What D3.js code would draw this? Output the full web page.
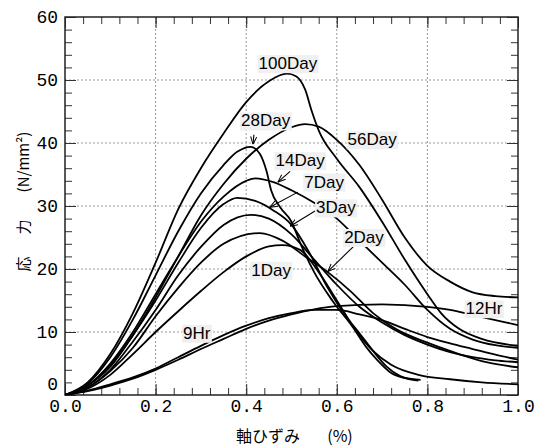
<!DOCTYPE html>
<html>
<head>
<meta charset="utf-8">
<script src="https://cdn.jsdelivr.net/npm/d3@7"></script>
<style>
  body { margin: 0; background: #fff; }
  svg { display: block; }
</style>
</head>
<body>
<script>
// strain (%) , stress (N/mm2)
const day100 = [[0,0],[0.05,2],[0.1,6.5],[0.15,13],[0.2,21],[0.25,29.5],[0.3,36],[0.35,41.5],[0.4,46.5],[0.45,49.8],[0.49,51],[0.51,50.6],[0.53,48.5],[0.545,45],[0.56,42],[0.6,37.5],[0.65,33],[0.7,27.5],[0.75,21.5],[0.8,16],[0.83,13],[0.87,10.5],[0.92,8.9],[1,7.8]];
const day56 = [[0,0],[0.05,1.5],[0.1,4.5],[0.15,9.5],[0.2,15.5],[0.25,22],[0.3,28.5],[0.35,33.5],[0.4,37.5],[0.45,40.5],[0.5,42.5],[0.53,43],[0.56,42.6],[0.6,40.5],[0.65,36.5],[0.7,31],[0.75,25],[0.8,20.5],[0.85,18],[0.9,16.3],[0.95,15.7],[1,15.5]];
const day28 = [[0,0],[0.05,1.8],[0.1,6],[0.15,12],[0.2,19],[0.25,26],[0.3,32],[0.35,36.5],[0.38,38.6],[0.41,39.4],[0.43,38.3],[0.445,35.5],[0.455,32.5],[0.475,29.8],[0.5,27.5],[0.52,24],[0.55,19.5],[0.59,15],[0.635,10.8],[0.665,7.6],[0.69,5.5],[0.72,3.5],[0.75,2.7],[0.785,2.4]];
const day14 = [[0,0],[0.05,1.5],[0.1,5],[0.15,10],[0.2,16],[0.25,22],[0.3,27.5],[0.35,31.5],[0.4,34],[0.42,34.4],[0.46,33.8],[0.5,32.5],[0.55,30.5],[0.6,28],[0.65,24.5],[0.7,21],[0.75,17.5],[0.8,13.5],[0.85,10.5],[0.9,8.8],[0.95,7.9],[1,7.5]];
const day7 = [[0,0],[0.05,1.5],[0.1,4.8],[0.15,9.5],[0.2,15],[0.25,21],[0.3,26.5],[0.35,30.3],[0.38,31.3],[0.42,30.8],[0.46,29.3],[0.5,27],[0.54,22.5],[0.58,17],[0.62,12.5],[0.65,9.8],[0.68,7],[0.71,4.5],[0.74,3],[0.78,2.3]];
const day3 = [[0,0],[0.05,1.2],[0.1,4],[0.15,8.5],[0.2,13.5],[0.25,19],[0.3,23.5],[0.35,27],[0.41,28.6],[0.45,28],[0.5,25.5],[0.55,21.5],[0.6,17.5],[0.65,14],[0.7,11.5],[0.75,9.5],[0.8,8],[0.85,6.8],[0.9,6],[0.95,5.5],[1,5.2]];
const day2 = [[0,0],[0.05,1.2],[0.1,3.8],[0.15,7.5],[0.2,12.5],[0.25,17],[0.3,21],[0.35,24],[0.43,25.7],[0.48,24.5],[0.53,22],[0.58,19.5],[0.63,16.5],[0.68,13],[0.73,10.5],[0.8,8.3],[0.87,6.5],[0.93,5.2],[1,4.4]];
const day1 = [[0,0],[0.05,1],[0.1,3.2],[0.15,6.5],[0.2,10],[0.25,13.3],[0.3,16.5],[0.35,19.5],[0.4,22],[0.45,23.6],[0.48,23.8],[0.52,23],[0.56,19.5],[0.6,15],[0.64,10.5],[0.68,7],[0.72,4.8],[0.78,3.2],[0.85,2.5],[0.92,2],[1,1.7]];
const hr12 = [[0,0],[0.05,0.6],[0.1,1.5],[0.15,2.6],[0.2,4],[0.25,5.6],[0.3,7.3],[0.35,8.9],[0.4,10.5],[0.45,11.8],[0.5,12.8],[0.55,13.6],[0.6,14.1],[0.7,14.4],[0.8,14],[0.85,13.5],[0.9,12.7],[0.95,11.9],[1,11.1]];
const hr9 = [[0,0],[0.05,0.7],[0.1,1.7],[0.15,2.8],[0.2,4.2],[0.25,6],[0.3,7.8],[0.35,9.5],[0.4,11],[0.45,12.2],[0.5,13],[0.55,13.5],[0.6,13.5],[0.65,12.8],[0.7,11.9],[0.75,10.5],[0.8,9.2],[0.85,8.2],[0.9,7.3],[0.95,6.4],[1,5.6]];

const curves = [day100, day56, day28, day14, day7, day3, day2, day1, hr12, hr9];

const xTicks = [0, 0.2, 0.4, 0.6, 0.8, 1.0];
const yTicks = [0, 10, 20, 30, 40, 50, 60];

// label text, label centre in data units, arrow start / tip (or null)
const labelNames = ['100Day', '56Day', '28Day', '14Day', '7Day', '3Day', '2Day', '1Day', '12Hr', '9Hr'];
const labelAt = [[0.492, 52.6], [0.678, 40.5], [0.443, 43.5], [0.519, 37.2], [0.572, 33.8], [0.598, 29.7], [0.66, 25], [0.455, 19.8], [0.925, 13.7], [0.291, 9.8]];
const arrowFrom = [null, null, [0.417, 41.3], [0.497, 35.5], [0.514, 32.2], [0.552, 29.2], [0.64, 23.8], null, null, null];
const arrowTo = [null, null, [0.415, 39.8], [0.47, 33.8], [0.452, 29.8], [0.497, 26.8], [0.58, 19.6], null, null, null];

const w = 536, h = 446;
const mLeft = 65, mRight = 518, mTop = 17, mBottom = 395;

const svg = d3.select('body').append('svg')
  .attr('width', w)
  .attr('height', h);

const x = d3.scaleLinear().domain([0, 1]).range([mLeft, mRight]);
const y = d3.scaleLinear().domain([0, 60]).range([mBottom, mTop]);

// dotted grid
svg.append('g')
  .selectAll('line')
  .data(xTicks.slice(1, -1))
  .join('line')
  .attr('x1', d => x(d)).attr('x2', d => x(d))
  .attr('y1', mTop).attr('y2', mBottom)
  .attr('stroke', '#999').attr('stroke-dasharray', '2,2');
svg.append('g')
  .selectAll('line')
  .data(yTicks.slice(1, -1))
  .join('line')
  .attr('y1', d => y(d)).attr('y2', d => y(d))
  .attr('x1', mLeft).attr('x2', mRight)
  .attr('stroke', '#999').attr('stroke-dasharray', '2,2');

// inward ticks on all four sides
const xMinor = d3.range(0, 1.0001, 0.04);
const yMinor = d3.range(0, 60.001, 2);
const axB = d3.axisBottom(x).tickValues(xMinor).tickSize(-7).tickFormat('');
const axT = d3.axisTop(x).tickValues(xMinor).tickSize(-7).tickFormat('');
const axL = d3.axisLeft(y).tickValues(yMinor).tickSize(-7).tickFormat('');
const axR = d3.axisRight(y).tickValues(yMinor).tickSize(-7).tickFormat('');
const axB2 = d3.axisBottom(x).tickValues(xTicks).tickSize(-11).tickFormat(d => d.toFixed(1)).tickPadding(4);
const axL2 = d3.axisLeft(y).tickValues(yTicks).tickSize(-11).tickPadding(7);
const axT2 = d3.axisTop(x).tickValues(xTicks).tickSize(-11).tickFormat('');
const axR2 = d3.axisRight(y).tickValues(yTicks).tickSize(-11).tickFormat('');

[[axB, mBottom], [axB2, mBottom], [axT, mTop], [axT2, mTop]].forEach(([a, ty]) => {
  svg.append('g').attr('class', 'ax').attr('transform', 'translate(0,' + ty + ')').call(a);
});
[[axL, mLeft], [axL2, mLeft, 'yLab'], [axR, mRight], [axR2, mRight]].forEach(([a, tx, cls]) => {
  svg.append('g').attr('class', 'ax ' + (cls || '')).attr('transform', 'translate(' + tx + ',0)').call(a);
});
svg.selectAll('.ax .domain').remove();
svg.selectAll('.ax line').attr('stroke', '#333').attr('stroke-width', 1);
svg.selectAll('.ax text')
  .attr('fill', '#000')
  .style('font-family', '"Liberation Mono", "DejaVu Sans Mono", monospace')
  .style('font-size', '18px');
// the "0" of the stress axis sits a little high so it clears "0.0"
svg.selectAll('.yLab text').filter(d => d === 0).attr('dy', '-0.3em');

svg.append('rect')
  .attr('x', mLeft).attr('y', mTop)
  .attr('width', mRight - mLeft).attr('height', mBottom - mTop)
  .attr('fill', 'none').attr('stroke', '#222').attr('stroke-width', 1.5);

// curves
svg.append('clipPath').attr('id', 'plot')
  .append('rect').attr('x', mLeft).attr('y', mTop).attr('width', mRight - mLeft).attr('height', mBottom - mTop);

const line = d3.line()
  .x(d => x(d[0]))
  .y(d => y(d[1]))
  .curve(d3.curveMonotoneX);

svg.append('g').attr('clip-path', 'url(#plot)')
  .selectAll('path')
  .data(curves)
  .join('path')
  .attr('d', line)
  .attr('fill', 'none')
  .attr('stroke', '#000')
  .attr('stroke-width', 1.8);

// arrows
svg.append('defs').append('marker')
  .attr('id', 'head')
  .attr('viewBox', '0 0 10 10')
  .attr('refX', 10).attr('refY', 5)
  .attr('markerWidth', 7).attr('markerHeight', 7)
  .attr('orient', 'auto')
  .append('path')
  .attr('d', 'M0,1 L10,5 L0,9')
  .attr('fill', 'none').attr('stroke', '#000').attr('stroke-width', 1.3);

arrowFrom.forEach((f, i) => {
  if (!f) return;
  const t = arrowTo[i];
  svg.append('line')
    .attr('x1', x(f[0])).attr('y1', y(f[1]))
    .attr('x2', x(t[0])).attr('y2', y(t[1]))
    .attr('stroke', '#000').attr('stroke-width', 1.1)
    .attr('marker-end', 'url(#head)');
});

// labels on light boxes
labelNames.forEach((name, i) => {
  const g = svg.append('g');
  const txt = g.append('text')
    .attr('x', x(labelAt[i][0]))
    .attr('y', y(labelAt[i][1]))
    .attr('text-anchor', 'middle')
    .attr('dominant-baseline', 'central')
    .style('font-family', '"Liberation Sans", Arial, sans-serif')
    .style('font-size', '17px')
    .text(name);
  const b = txt.node().getBBox();
  g.insert('rect', 'text')
    .attr('x', b.x - 1).attr('y', b.y + 1)
    .attr('width', b.width + 2).attr('height', b.height - 1)
    .attr('fill', '#f0f0f0');
});

// axis titles, pieces placed separately to keep the wide gaps
const cjk = '"Noto Sans CJK JP", sans-serif';
const yTitle = [['応', 264], ['力', 227], ['(N/mm²)', 162]];
yTitle.forEach(([t, cy]) => {
  svg.append('text')
    .attr('transform', 'translate(22,' + cy + ') rotate(-90)')
    .attr('text-anchor', 'middle')
    .attr('dominant-baseline', 'central')
    .style('font-family', cjk)
    .style('font-size', '15px')
    .text(t);
});

const xTitle = [['軸ひずみ', 268], ['(%)', 340]];
xTitle.forEach(([t, cx]) => {
  svg.append('text')
    .attr('x', cx).attr('y', 442)
    .attr('text-anchor', 'middle')
    .style('font-family', cjk)
    .style('font-size', '16px')
    .text(t);
});
</script>
</body>
</html>
